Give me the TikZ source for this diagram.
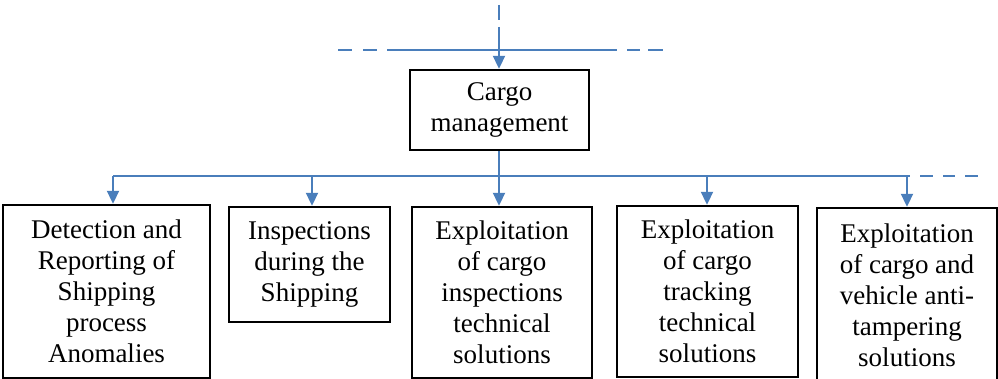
\documentclass[tikz,border=0pt]{standalone}
\usepackage{fontspec}
\setmainfont{Liberation Serif}
\usepackage{tikz}
\usepackage{xcolor}
\usetikzlibrary{arrows.meta}
\definecolor{linkblue}{HTML}{4A7EBB}

\begin{document}
\begin{tikzpicture}[x=0.5pt, y=-0.5pt,
  box/.style={draw=black, line width=1.2pt, align=center, inner sep=0pt,
    font=\fontsize{13.5}{15.5}\selectfont},
  link/.style={draw=linkblue, line width=1pt},
  tip/.style={-{Triangle[length=6.5pt,width=6pt]}}]
\useasboundingbox (0,0) rectangle (998,379);
\clip (0,0) rectangle (998,379);
\node[box, minimum width=89.5pt, minimum height=40pt] (cargo) at (499.5,110) {Cargo\\management};
\node[box, minimum width=103.5pt, minimum height=86.5pt] (anom) at (106.5,291.5) {Detection and\\Reporting of\\Shipping\\process\\Anomalies};
\node[box, minimum width=80.5pt, minimum height=57.5pt] (insp) at (309.5,264.5) {Inspections\\during the\\Shipping};
\node[box, minimum width=90pt, minimum height=85.5pt] (techinsp) at (502,292.5) {Exploitation\\of cargo\\inspections\\technical\\solutions};
\node[box, minimum width=90.5pt, minimum height=85.5pt] (track) at (707.5,291.5) {Exploitation\\of cargo\\tracking\\technical\\solutions};
\node[box, minimum width=90pt, minimum height=87pt] (tamper) at (907,295) {Exploitation\\of cargo and\\vehicle anti-\\tampering\\solutions};
\coordinate (top) at (499,5);
\coordinate (inl) at (338,50);
\coordinate (inr) at (663,50);
\coordinate (busl) at (113,176);
\coordinate (busr) at (978,176);
\coordinate (bus2) at (312,176);
\coordinate (bus3) at (499,176);
\coordinate (bus4) at (707,176);
\coordinate (bus5) at (907,176);
\draw[link, dash pattern=on 7pt off 5.5pt on 7pt off 5pt on 115pt off 5pt on 6.5pt off 4pt on 7.5pt] (inl) -- (inr);
\draw[link, tip, dash pattern=on 7.5pt off 3.5pt on 100pt] (top) -- (top |- cargo.north);
\draw[link] (cargo.south -| bus3) -- (bus3);
\draw[link, dash pattern=on 398.5pt off 5pt on 6.5pt off 5pt on 6pt off 5pt on 6.5pt] (busl) -- (busr);
\draw[link, tip] (busl) -- (busl |- anom.north);
\draw[link, tip] (bus2) -- (bus2 |- insp.north);
\draw[link, tip] (bus3) -- (bus3 |- techinsp.north);
\draw[link, tip] (bus4) -- (bus4 |- track.north);
\draw[link, tip] (bus5) -- (bus5 |- tamper.north);
\end{tikzpicture}
\end{document}
